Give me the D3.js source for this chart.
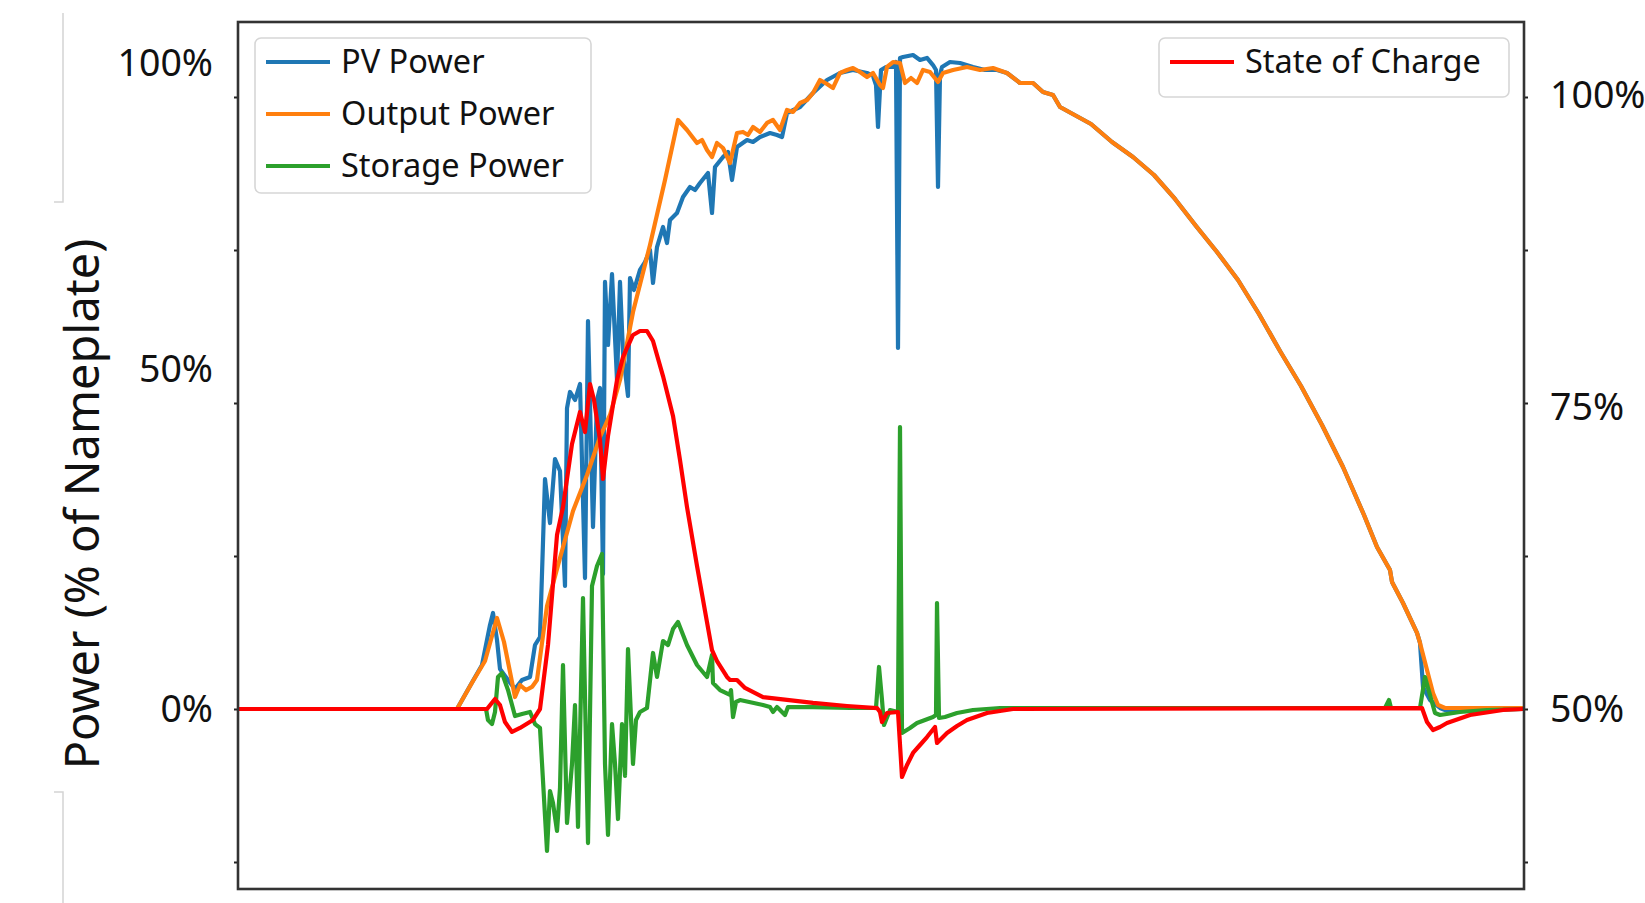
<!DOCTYPE html>
<html>
<head>
<meta charset="utf-8">
<script src="https://cdn.jsdelivr.net/npm/d3@7"></script>
<style>
  html, body { margin: 0; padding: 0; background: #fff; }
  svg { display: block; font-family: "Noto Sans", "Open Sans", sans-serif; }
</style>
</head>
<body>
<svg id="chart" width="1645" height="903"></svg>
<script>
// ---------------- DATA (time in minutes from start of record, values in %) ----------------
const seriesNames = ["PV Power", "Output Power", "Storage Power"];
const socName = "State of Charge";
const powerTicks = [0, 50, 100];
const socTicks = [50, 75, 100];
const rawTicks = [-1, 0, 1, 2, 3, 4];

const pvPower = [
  [1,0],[219,0],[232,3.38],[244,6.47],[252,12.35],[255,14.12],[259,10.15],[262,5.88],[270,4.26],[277,2.94],
  [284,4.26],[292,4.71],[297,9.41],[302,10.59],[307,33.82],[312,27.35],[317,36.76],[322,35.0],[327,18.09],
  [329,44.26],[332,46.62],[337,45.44],[342,47.79],[347,19.26],[350,57.84],[355,26.76],[359,45.44],[362,47.21],
  [365,19.85],[367,64.22],[370,53.92],[374,65.52],[379,48.38],[382,64.22],[385,52.61],[390,46.03],[392,64.87],
  [396,62.91],[402,66.18],[407,67.48],[412,69.44],[415,64.05],[419,69.93],[425,73.20],[429,70.59],[432,74.35],
  [439,75.49],[445,78.10],[452,79.74],[457,79.25],[462,80.39],[470,82.03],[474,75.49],[477,83.01],[485,84.64],
  [490,85.46],[494,80.88],[499,86.27],[509,87.42],[515,87.09],[522,87.91],[532,88.56],[539,88.24],[544,87.91],
  [549,91.83],[562,92.81],[575,95.10],[589,97.22],[602,98.37],[615,98.86],[629,98.37],[635,97.88],[638,96.41],
  [640,89.54],[643,98.86],[648,99.35],[655,99.35],[658,100.16],[660,53.43],[662,100.82],[665,100.98],[675,101.31],
  [682,100.49],[689,100.82],[695,99.67],[698,98.86],[700,79.74],[702,98.04],[704,99.35],[712,100.16],[722,100.0],
  [735,99.35],[747,98.86],[759,98.86],[769,98.37],[782,96.73],[795,96.73],[805,95.26],[815,94.77],[822,92.81],
  [853,90.03],[874,87.09],[895,84.64],[916,81.70],[937,77.78],[958,73.37],[979,69.12],[1000,64.54],[1021,58.99],
  [1042,52.94],[1063,47.50],[1084,41.76],[1105,35.59],[1126,28.53],[1139,23.82],[1152,20.44],[1154,18.68],
  [1165,15.59],[1179,11.18],[1182,9.71],[1185,3.24],[1192,1.32],[1202,0.15],[1207,-0.15],[1232,-0.15],[1285,0]
];

const outputPower = [
  [1,0],[219,0],[235,4.12],[247,7.06],[259,13.38],[266,9.85],[277,1.76],[282,3.53],[288,2.79],[294,3.24],
  [299,4.26],[309,15.15],[322,22.21],[335,29.12],[349,34.41],[362,40.0],[372,43.24],[382,48.38],[395,59.31],
  [412,70.26],[427,80.88],[440,90.69],[449,89.05],[459,86.93],[464,87.42],[469,85.78],[474,84.64],[479,86.93],
  [485,86.11],[492,83.66],[499,88.56],[505,88.73],[510,88.24],[515,89.54],[522,88.73],[529,90.20],[535,90.69],
  [542,89.05],[549,92.32],[555,92.0],[562,93.46],[569,93.95],[575,95.10],[582,97.22],[589,96.57],[595,95.92],
  [602,98.37],[609,98.86],[615,99.18],[622,98.53],[629,97.71],[635,98.37],[642,96.41],[645,95.92],[649,99.35],
  [655,100.16],[662,100.0],[667,96.73],[673,97.55],[679,96.73],[685,98.86],[692,98.53],[700,96.90],[705,98.37],
  [715,98.86],[729,99.35],[742,98.86],[755,99.18],[769,98.37],[782,96.73],[795,96.73],[805,95.26],[815,94.77],
  [822,92.81],[853,90.03],[874,87.09],[895,84.64],[916,81.70],[937,77.78],[958,73.37],[979,69.12],[1000,64.54],
  [1021,58.99],[1042,52.94],[1063,47.50],[1084,41.76],[1105,35.59],[1126,28.53],[1139,23.82],[1152,20.44],
  [1154,18.68],[1165,15.59],[1179,11.18],[1182,9.71],[1189,5.74],[1195,2.35],[1200,0.59],[1207,0.15],[1285,0.15]
];

const storagePower = [
  [1,0],[248,0],[250,-1.62],[254,-2.21],[257,-0.44],[260,4.71],[264,5.29],[270,2.79],[277,-1.03],[284,-0.74],
  [292,-0.44],[297,-2.21],[302,-2.79],[309,-20.88],[312,-12.06],[315,-13.82],[319,-17.94],[322,-11.62],[325,6.47],
  [329,-16.76],[334,-8.09],[337,0.59],[340,-17.35],[345,16.32],[350,-19.71],[354,18.09],[359,21.03],[364,22.79],
  [367,-8.09],[370,-18.53],[374,-2.21],[377,-8.09],[380,-16.18],[384,-2.21],[387,-9.85],[390,8.82],[395,-8.09],
  [398,-1.62],[402,-0.44],[409,0.15],[415,8.24],[419,4.71],[425,10.0],[430,9.41],[435,11.76],[440,12.79],
  [449,9.41],[459,6.47],[469,4.71],[474,7.94],[475,3.82],[482,2.79],[492,2.06],[493,2.79],[495,-1.18],[498,1.03],
  [502,1.32],[525,0.59],[532,0.29],[535,-0.44],[539,0.29],[547,-0.88],[550,0.29],[575,0.29],[612,0.15],[638,0.15],
  [641,6.18],[644,1.32],[646,-2.35],[652,-0.15],[660,-0.44],[662,41.47],[664,-3.53],[672,-2.79],[679,-2.06],
  [687,-1.62],[695,-1.18],[698,-0.88],[699,15.59],[701,-1.32],[707,-1.18],[719,-0.59],[735,-0.15],[762,0.15],
  [1147,0.15],[1151,1.32],[1153,0.15],[1182,0.15],[1187,4.71],[1197,-0.59],[1202,-0.88],[1222,-0.44],
  [1249,-0.15],[1285,0]
];

const stateOfCharge = [
  [1,50],[249,50],[257,50.83],[262,50.33],[267,48.92],[274,48.10],[282,48.43],[295,49.09],[302,50],[310,55.30],
  [319,64.40],[325,66.72],[334,71.94],[342,74.59],[347,72.93],[352,76.84],[356,75.56],[359,73.92],[362,72.27],
  [365,69.04],[370,72.60],[379,77.16],[385,79.01],[395,80.77],[402,81.09],[409,81.09],[415,80.29],[425,77.48],
  [435,74.26],[442,70.61],[449,66.72],[459,61.84],[469,57.20],[474,54.88],[479,53.97],[489,52.65],[492,52.40],
  [499,52.40],[507,51.74],[525,50.99],[549,50.75],[575,50.50],[609,50.25],[639,50.08],[642,49.75],[644,48.92],
  [649,49.67],[660,49.75],[664,44.37],[669,45.36],[675,46.36],[682,47.02],[689,47.68],[697,48.51],[699,47.19],
  [709,48.01],[719,48.59],[729,49.09],[749,49.67],[775,50.0],[1184,50.08],[1189,48.92],[1195,48.26],[1202,48.51],
  [1209,48.84],[1232,49.50],[1265,49.92],[1285,50]
];

const colors = ["#1f77b4", "#ff7f0e", "#2ca02c"];
const socColor = "#ff0000";

// ---------------- LAYOUT ----------------
const svg = d3.select("#chart");
const plot = { left: 238, right: 1524, top: 22, bottom: 889 };

const x = d3.scaleLinear().domain([0, 1286]).range([plot.left, plot.right]);
const yPow = d3.scaleLinear().domain([0, 50, 100]).range([709, 369, 63]);
const ySoc = d3.scaleLinear().domain([50, 75, 100]).range([709, 407, 95]);
const yRaw = d3.scaleLinear().domain([0, 4]).range([709, 97]);

// decorative gray guide lines at far left (from the source figure)
const deco = svg.append("g").attr("stroke", "#d4d4d4").attr("stroke-width", 1.5).attr("fill", "none");
deco.append("path").attr("d", "M63,13 V202 H54");
deco.append("path").attr("d", "M54,792 H63 V903");

// clip
svg.append("defs").append("clipPath").attr("id", "clip")
  .append("rect").attr("x", plot.left).attr("y", plot.top)
  .attr("width", plot.right - plot.left).attr("height", plot.bottom - plot.top);

const lineP = d3.line().x(d => x(d[0])).y(d => yPow(d[1]));
const lineS = d3.line().x(d => x(d[0])).y(d => ySoc(d[1]));

const LW = 4.2;
const g = svg.append("g").attr("clip-path", "url(#clip)");
[pvPower, outputPower, storagePower].forEach((s, i) => {
  g.append("path").datum(s).attr("d", lineP)
    .attr("fill", "none").attr("stroke", colors[i]).attr("stroke-width", LW)
    .attr("stroke-linejoin", "round").attr("stroke-linecap", "round");
});
g.append("path").datum(stateOfCharge).attr("d", lineS)
  .attr("fill", "none").attr("stroke", socColor).attr("stroke-width", LW)
  .attr("stroke-linejoin", "round").attr("stroke-linecap", "round");

// small tick nubs on both spines
const nubL = svg.append("g").attr("transform", `translate(${plot.left},0)`)
  .call(d3.axisLeft(yRaw).tickValues(rawTicks).tickFormat("").tickSize(4).tickSizeOuter(0));
const nubR = svg.append("g").attr("transform", `translate(${plot.right},0)`)
  .call(d3.axisRight(yRaw).tickValues(rawTicks).tickFormat("").tickSize(4).tickSizeOuter(0));
[nubL, nubR].forEach(a => {
  a.select(".domain").remove();
  a.selectAll("line").attr("stroke", "#222").attr("stroke-width", 2);
});

// frame
svg.append("rect").attr("x", plot.left).attr("y", plot.top)
  .attr("width", plot.right - plot.left).attr("height", plot.bottom - plot.top)
  .attr("fill", "none").attr("stroke", "#333").attr("stroke-width", 2.6);

// left labels
const axL = svg.append("g").attr("transform", `translate(${plot.left},0)`)
  .call(d3.axisLeft(yPow).tickValues(powerTicks).tickFormat(d => d + "%").tickSize(0).tickPadding(25));
axL.select(".domain").remove();
axL.selectAll("text").attr("font-size", 37.5).attr("fill", "#111").attr("font-family", "Noto Sans, sans-serif");

// right labels
const axR = svg.append("g").attr("transform", `translate(${plot.right},0)`)
  .call(d3.axisRight(ySoc).tickValues(socTicks).tickFormat(d => d + "%").tickSize(0).tickPadding(26));
axR.select(".domain").remove();
axR.selectAll("text").attr("font-size", 37.5).attr("fill", "#111").attr("font-family", "Noto Sans, sans-serif");

// y-axis title
svg.append("text")
  .attr("transform", "translate(99,504) rotate(-90)")
  .attr("text-anchor", "middle")
  .attr("font-size", 47).attr("fill", "#111")
  .text("Power (% of Nameplate)");

// legends
function legend(x0, y0, w, h, items) {
  const lg = svg.append("g");
  lg.append("rect").attr("x", x0).attr("y", y0).attr("width", w).attr("height", h)
    .attr("rx", 6).attr("fill", "#fff").attr("fill-opacity", 0.9)
    .attr("stroke", "#d6d6d6").attr("stroke-width", 1.6);
  items.forEach((it, i) => {
    const cy = y0 + 24 + i * 52;
    lg.append("line").attr("x1", x0 + 11).attr("x2", x0 + 75).attr("y1", cy).attr("y2", cy)
      .attr("stroke", it.color).attr("stroke-width", LW);
    lg.append("text").attr("x", x0 + 86).attr("y", cy).attr("dy", "0.35em")
      .attr("font-size", 32.5).attr("fill", "#111").text(it.name);
  });
}
legend(255, 38, 336, 155, seriesNames.map((n, i) => ({ name: n, color: colors[i] })));
legend(1159, 38, 350, 59, [{ name: socName, color: socColor }]);
</script>
</body>
</html>
